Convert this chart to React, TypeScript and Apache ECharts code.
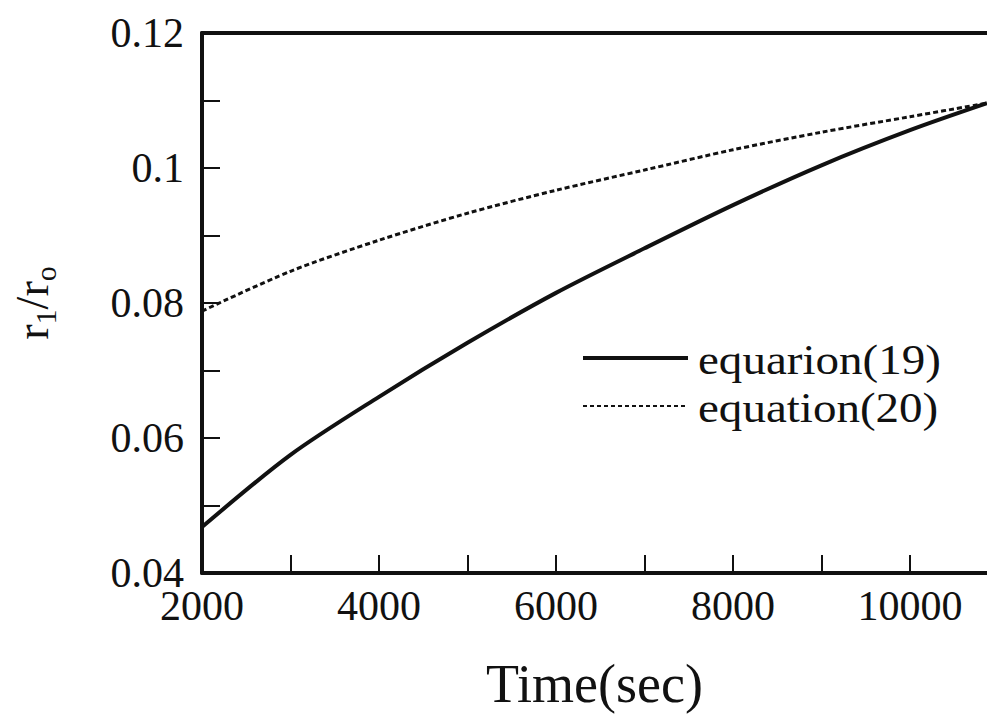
import React, { useEffect, useRef } from "react";
import * as echarts from "echarts";

const timeSec = [2000, 3000, 4000, 5000, 6000, 7000, 8000, 9000, 10000, 10870];
const eq19 = [0.0468, 0.0575, 0.0661, 0.0741, 0.0815, 0.0881, 0.0945, 0.1004, 0.1056, 0.1096];
const eq20 = [0.0788, 0.0847, 0.0893, 0.0933, 0.0967, 0.0997, 0.1027, 0.1053, 0.1076, 0.1096];
const seriesNames = ["equarion(19)", "equation(20)"];

const FONT = "Liberation Serif";

export default function App() {
  const ref = useRef<HTMLDivElement>(null);
  useEffect(() => {
    const chart = echarts.init(ref.current!, null, { renderer: "svg" });
    const pair = (ys: number[]) => timeSec.map((x, i) => [x, ys[i]]);
    chart.setOption({
      animation: false,
      backgroundColor: "#fff",
      grid: { left: 202, top: 33, right: 0, bottom: 147 },
      xAxis: [
        {
          type: "value",
          min: 2000,
          max: 10870,
          interval: 1000,
          name: "Time(sec)",
          nameLocation: "middle",
          nameGap: 84,
          nameTextStyle: { fontFamily: FONT, fontSize: 54, color: "#111" },
          axisLine: { lineStyle: { color: "#111", width: 4 } },
          axisTick: { inside: true, length: 18, lineStyle: { color: "#111", width: 2 } },
          axisLabel: {
            fontFamily: FONT,
            fontSize: 42,
            color: "#111",
            margin: 12,
            showMaxLabel: false,
            formatter: (v: number) => (Math.round(v) % 2000 === 0 ? String(v) : ""),
          },
          splitLine: { show: false },
        },
        {
          type: "value",
          position: "top",
          min: 2000,
          max: 10870,
          axisLine: { lineStyle: { color: "#111", width: 4 } },
          axisTick: { show: false },
          axisLabel: { show: false },
          splitLine: { show: false },
        },
      ],
      yAxis: {
        type: "value",
        min: 0.04,
        max: 0.12,
        interval: 0.01,
        name: "r{sub|1}/r{sub|o}",
        nameLocation: "middle",
        nameGap: 142,
        nameTextStyle: {
          fontFamily: FONT,
          fontSize: 46,
          color: "#111",
          rich: {
            sub: { fontFamily: FONT, fontSize: 30, color: "#111", verticalAlign: "bottom", lineHeight: 56, padding: [18, 0, 0, 0] },
          },
        },
        axisLine: { lineStyle: { color: "#111", width: 4 } },
        axisTick: { inside: true, length: 18, lineStyle: { color: "#111", width: 2 } },
        axisLabel: {
          fontFamily: FONT,
          fontSize: 42,
          color: "#111",
          margin: 18,
          formatter: (v: number) => {
            const k = Math.round(v * 100);
            if (k % 2 !== 0) return "";
            return String(parseFloat((k / 100).toFixed(2)));
          },
        },
        splitLine: { show: false },
      },
      series: [
        {
          name: seriesNames[0],
          type: "line",
          data: pair(eq19),
          smooth: 0.3,
          showSymbol: false,
          lineStyle: { color: "#111", width: 4, type: "solid" },
        },
        {
          name: seriesNames[1],
          type: "line",
          data: pair(eq20),
          smooth: 0.3,
          showSymbol: false,
          lineStyle: { color: "#111", width: 3, type: [5, 3] },
        },
      ],
      graphic: [
        { type: "line", shape: { x1: 583, y1: 358, x2: 688, y2: 358 }, style: { stroke: "#111", lineWidth: 4 } },
        {
          type: "text",
          x: 698,
          y: 360,
          scaleX: 1.12,
          style: { text: seriesNames[0], fontFamily: FONT, fontSize: 42, fill: "#111", verticalAlign: "middle" },
        },
        { type: "line", shape: { x1: 583, y1: 406, x2: 688, y2: 406 }, style: { stroke: "#111", lineWidth: 2, lineDash: [4, 3] } },
        {
          type: "text",
          x: 698,
          y: 408,
          scaleX: 1.12,
          style: { text: seriesNames[1], fontFamily: FONT, fontSize: 42, fill: "#111", verticalAlign: "middle" },
        },
      ],
    });
    return () => chart.dispose();
  }, []);
  return <div ref={ref} style={{ width: 987, height: 720, position: "absolute", left: 0, top: 0 }} />;
}
